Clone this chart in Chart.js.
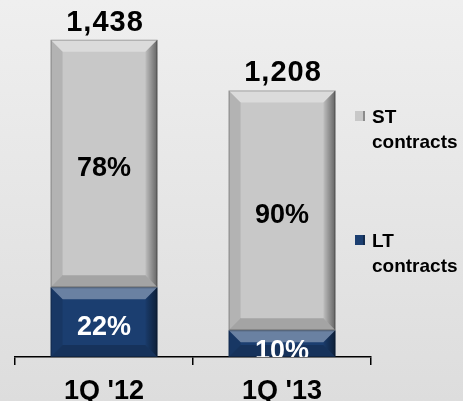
<!DOCTYPE html>
<html>
<head>
<meta charset="utf-8">
<script src="https://cdn.jsdelivr.net/npm/chart.js@4.4.1/dist/chart.umd.min.js"></script>
<style>
html, body { margin: 0; padding: 0; }
body { width: 463px; height: 401px; overflow: hidden; background: linear-gradient(#efefef, #dddddd); }
canvas { display: block; }
</style>
</head>
<body>
<canvas id="mix" width="463" height="401"></canvas>
<script>
// contract mix per quarter
const quarters = ["1Q '12", "1Q '13"];
const totals = [1438, 1208];
const ltShare = [22, 10];
const stShare = [78, 90];
const ltValues = [316, 121];
const stValues = [1122, 1087];

const FONT = 'Arial, "Liberation Sans", sans-serif';
const GREY = '#c8c8c8';
const NAVY = '#1b3e70';

// fake the bevelled look of the original bars
const bevel = {
  id: 'bevel',
  afterDatasetsDraw(chart) {
    const ctx = chart.ctx;
    chart.data.datasets.forEach((ds, i) => {
      chart.getDatasetMeta(i).data.forEach(bar => {
        const l = bar.x - bar.width / 2, r = bar.x + bar.width / 2;
        const t = Math.min(bar.y, bar.base), b = Math.max(bar.y, bar.base);
        const s = Math.min(12, (b - t) / 2);
        ctx.save();
        // top highlight
        ctx.fillStyle = 'rgba(255,255,255,0.35)';
        ctx.beginPath();
        ctx.moveTo(l, t); ctx.lineTo(r, t); ctx.lineTo(r - s, t + s); ctx.lineTo(l + s, t + s);
        ctx.closePath(); ctx.fill();
        // right shade
        const g = ctx.createLinearGradient(r - s, 0, r, 0);
        g.addColorStop(0, 'rgba(0,0,0,0.05)');
        g.addColorStop(1, 'rgba(0,0,0,0.5)');
        ctx.fillStyle = g;
        ctx.beginPath();
        ctx.moveTo(r, t); ctx.lineTo(r, b); ctx.lineTo(r - s, b - s); ctx.lineTo(r - s, t + s);
        ctx.closePath(); ctx.fill();
        // left shade
        ctx.fillStyle = 'rgba(0,0,0,0.1)';
        ctx.beginPath();
        ctx.moveTo(l, t); ctx.lineTo(l + s, t + s); ctx.lineTo(l + s, b - s); ctx.lineTo(l, b);
        ctx.closePath(); ctx.fill();
        // bottom shade
        ctx.fillStyle = 'rgba(0,0,0,0.18)';
        ctx.beginPath();
        ctx.moveTo(l, b); ctx.lineTo(l + s, b - s); ctx.lineTo(r - s, b - s); ctx.lineTo(r, b);
        ctx.closePath(); ctx.fill();
        ctx.strokeStyle = 'rgba(0,0,0,0.25)';
        ctx.lineWidth = 1;
        ctx.strokeRect(l + 0.5, t + 0.5, r - l - 1, b - t - 1);
        ctx.restore();
      });
    });
  }
};

// percentages inside, totals on top
const labels = {
  id: 'labels',
  afterDatasetsDraw(chart) {
    const ctx = chart.ctx;
    const area = chart.chartArea;
    ctx.save();
    ctx.beginPath();
    ctx.rect(0, 0, chart.width, area.bottom);
    ctx.clip();
    ctx.textAlign = 'center';
    ctx.textBaseline = 'middle';
    ctx.font = 'bold 27px ' + FONT;
    const shares = [ltShare, stShare];
    const colors = ['#ffffff', '#000000'];
    chart.data.datasets.forEach((ds, i) => {
      chart.getDatasetMeta(i).data.forEach((bar, j) => {
        ctx.fillStyle = colors[i];
        const mid = (bar.y + bar.base) / 2;
        ctx.fillText(shares[i][j] + '%', bar.x, Math.max(mid, bar.y + 16) + 5);
      });
    });
    ctx.restore();
    ctx.save();
    ctx.textAlign = 'center';
    ctx.textBaseline = 'alphabetic';
    ctx.font = 'bold 29px ' + FONT;
    ctx.letterSpacing = '1px';
    ctx.fillStyle = '#000';
    const top = chart.getDatasetMeta(1).data;
    top.forEach((bar, j) => {
      ctx.fillText(totals[j].toLocaleString('en-US'), bar.x + 1, chart.scales.y.getPixelForValue(totals[j]) - 9);
    });
    ctx.restore();
  }
};

// two-line legend at the right
const sideLegend = {
  id: 'sideLegend',
  afterDraw(chart) {
    const ctx = chart.ctx;
    const x = chart.chartArea.right;
    const rows = [
      { ds: 1, y: 123, name: 'ST' },
      { ds: 0, y: 247, name: 'LT' }
    ];
    ctx.save();
    ctx.font = 'bold 19px ' + FONT;
    ctx.textBaseline = 'alphabetic';
    ctx.textAlign = 'left';
    rows.forEach(row => {
      ctx.fillStyle = chart.data.datasets[row.ds].backgroundColor;
      ctx.fillRect(x - 16, row.y - 12, 10, 10);
      ctx.fillStyle = 'rgba(0,0,0,0.3)';
      ctx.fillRect(x - 8, row.y - 12, 2, 10);
      ctx.fillStyle = '#000';
      ctx.fillText(row.name, x + 1, row.y);
      ctx.fillText('contracts', x + 1, row.y + 25);
    });
    ctx.restore();
  }
};

new Chart(document.getElementById('mix'), {
  type: 'bar',
  data: {
    labels: quarters,
    datasets: [
      { label: 'LT contracts', data: ltValues, backgroundColor: NAVY, barPercentage: 0.6, categoryPercentage: 1 },
      { label: 'ST contracts', data: stValues, backgroundColor: GREY, barPercentage: 0.6, categoryPercentage: 1 }
    ]
  },
  options: {
    responsive: false,
    animation: false,
    layout: { padding: { left: 15, right: 92, top: 4, bottom: 0 } },
    plugins: { legend: { display: false }, tooltip: { enabled: false } },
    scales: {
      x: {
        stacked: true,
        border: { display: true, color: '#000', width: 1.5 },
        grid: { drawOnChartArea: false, drawTicks: true, tickLength: 8, color: '#000', lineWidth: 1.5 },
        ticks: { color: '#000', padding: 13, font: { family: FONT, size: 27, weight: 'bold', lineHeight: 1 } },
        // labels run off the bottom edge in the original
        afterFit(scale) { scale.height = 44; }
      },
      y: { stacked: true, display: false, min: 0, max: 1600 }
    }
  },
  plugins: [bevel, labels, sideLegend]
});
</script>
</body>
</html>
